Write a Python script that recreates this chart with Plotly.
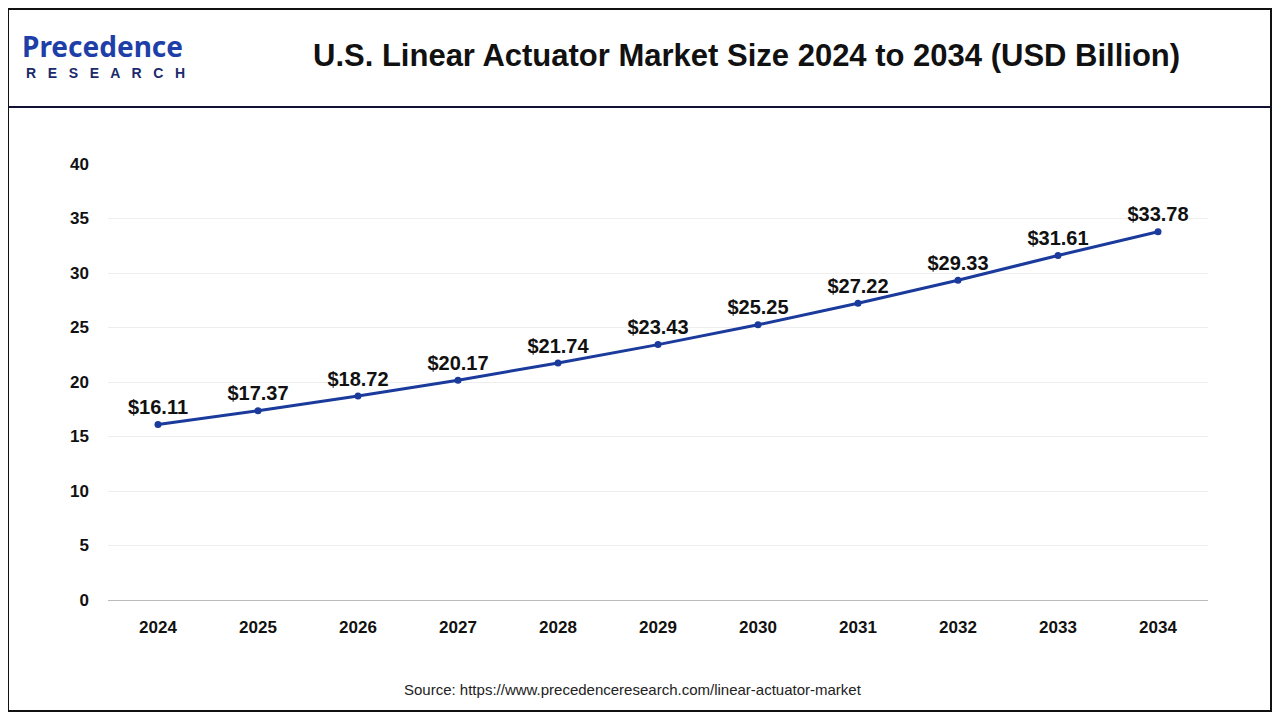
import plotly.graph_objects as go

years = ["2024", "2025", "2026", "2027", "2028", "2029", "2030", "2031", "2032", "2033", "2034"]
market_size = [16.11, 17.37, 18.72, 20.17, 21.74, 23.43, 25.25, 27.22, 29.33, 31.61, 33.78]
y_ticks = [0, 5, 10, 15, 20, 25, 30, 35, 40]

fig = go.Figure()

fig.add_trace(go.Scatter(
    x=years, y=market_size,
    mode="lines+markers+text",
    line=dict(color="#1a3a9c", width=3),
    marker=dict(size=7, color="#1a3a9c"),
    text=["<b>$%.2f</b>" % v for v in market_size],
    textposition="top center",
    textfont=dict(family="Arial, Liberation Sans", size=20, color="#111111"),
    cliponaxis=False,
    hoverinfo="skip",
))

# page body has an 8px margin, so figure is 1264x704 and everything is shifted by 8
fig.update_layout(
    width=1264, height=704,
    paper_bgcolor="white", plot_bgcolor="white",
    showlegend=False,
    margin=dict(l=100, r=64, t=156, b=112),
    xaxis=dict(type="category", range=[-0.5, 10.5], showgrid=False,
               showline=True, linecolor="#bbbbbb", linewidth=1, ticks="",
               tickfont=dict(family="Arial, Liberation Sans", size=17, color="#111111"),
               tickvals=years, ticktext=["<b>%s</b>" % y for y in years],
               ticklabelstandoff=12),
    yaxis=dict(range=[0, 40], tickvals=y_ticks, ticktext=["<b>%d</b>" % t for t in y_ticks],
               showgrid=True, gridcolor="#eeeeee", zeroline=False, showline=False,
               tickfont=dict(family="Arial, Liberation Sans", size=17, color="#111111"),
               ticklabelstandoff=18),
    shapes=[
        dict(type="rect", xref="paper", yref="paper", x0=-100/1100, x1=1+63/1100,
             y0=-111/436, y1=1+155/436, line=dict(color="#111111", width=2)),
        dict(type="line", xref="paper", yref="paper", x0=-100/1100, x1=1+63/1100,
             y0=(600-107)/436, y1=(600-107)/436, line=dict(color="#111133", width=2)),
    ],
    annotations=[
        dict(text="<b>U.S. Linear Actuator Market Size 2024 to 2034 (USD Billion)</b>",
             xref="paper", yref="paper", x=(746-108)/1100, y=(600-55)/436,
             showarrow=False, xanchor="center", yanchor="middle",
             font=dict(family="Arial, Liberation Sans", size=31, color="#111111")),
        dict(text="<b>Precedence</b>", xref="paper", yref="paper",
             x=(20-108)/1100, y=(600-46)/436, showarrow=False, xanchor="left", yanchor="middle",
             font=dict(family="Noto Sans", size=28, color="#1f3fa8")),
        dict(text="<b>R   E   S   E   A   R   C   H</b>", xref="paper", yref="paper",
             x=(24-108)/1100, y=(600-73)/436, showarrow=False, xanchor="left", yanchor="middle",
             font=dict(family="Arial, Liberation Sans", size=14, color="#1a2a6c")),
        dict(text="Source: https://www.precedenceresearch.com/linear-actuator-market",
             xref="paper", yref="paper", x=(633-108)/1100, y=(600-689)/436,
             showarrow=False, xanchor="center", yanchor="middle",
             font=dict(family="Arial, Liberation Sans", size=15, color="#222222")),
    ],
)

fig.write_html("out.html")
